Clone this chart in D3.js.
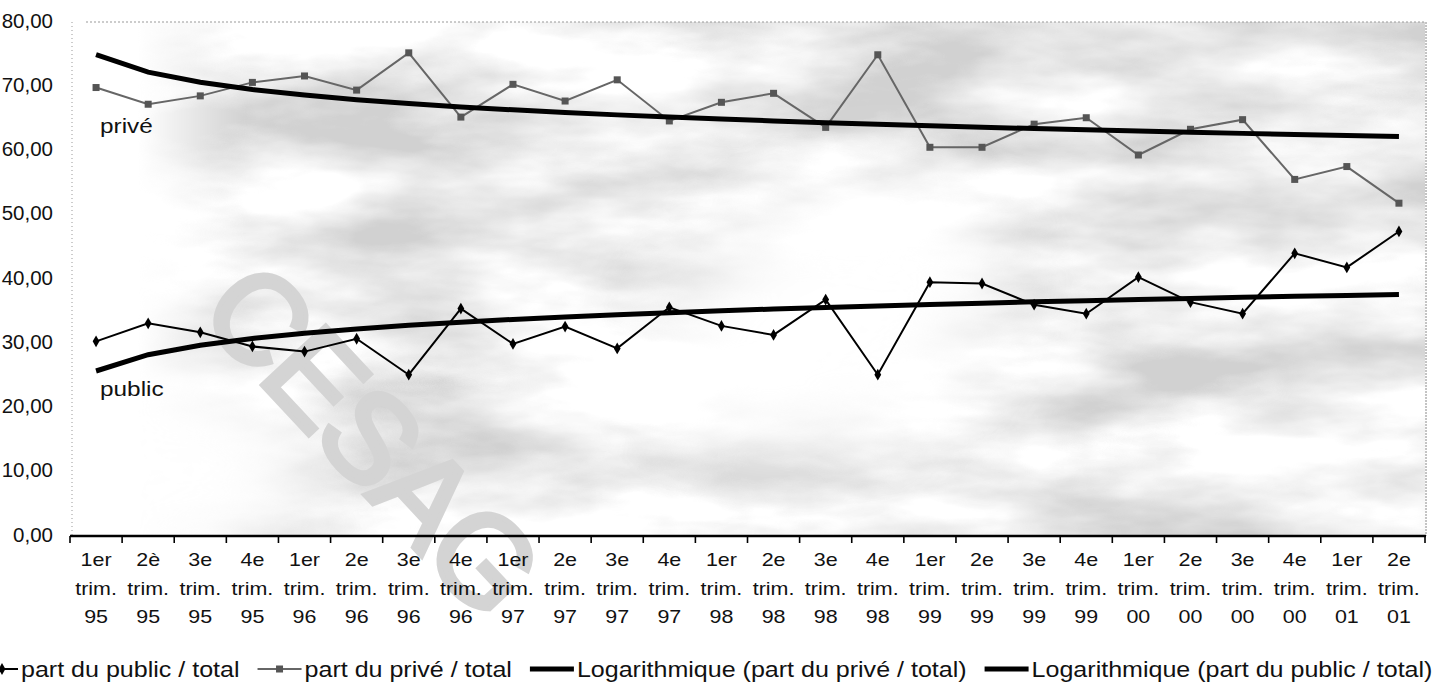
<!DOCTYPE html>
<html>
<head>
<meta charset="utf-8">
<script src="https://cdn.jsdelivr.net/npm/d3@7"></script>
<style>
  html, body { margin: 0; padding: 0; background: #fff; }
  svg { display: block; }
  text { font-family: "Liberation Sans", Arial, Helvetica, sans-serif; fill: #111; }
</style>
</head>
<body>
<svg id="chart" width="1437" height="694"></svg>
<script>
// Quarter labels (three lines per tick)
const quarters = ["1er","2è","3e","4e","1er","2e","3e","4e","1er","2e","3e","4e","1er","2e","3e","4e",
                  "1er","2e","3e","4e","1er","2e","3e","4e","1er","2e"];
const years = ["95","95","95","95","96","96","96","96","97","97","97","97","98","98","98","98",
               "99","99","99","99","00","00","00","00","01","01"];

// Share of the public sector in the total (%)
const publicShare = [30.3, 33.1, 31.7, 29.5, 28.7, 30.7, 25.1, 35.4, 29.9, 32.6, 29.2, 35.6, 32.7,
                     31.3, 36.8, 25.1, 39.5, 39.3, 36.0, 34.6, 40.3, 36.4, 34.6, 44.0, 41.8, 47.4];
// Share of the private sector in the total (%)
const privateShare = [69.8, 67.2, 68.5, 70.6, 71.6, 69.4, 75.2, 65.2, 70.3, 67.7, 71.0, 64.6, 67.5,
                      68.9, 63.6, 74.9, 60.5, 60.5, 64.1, 65.1, 59.3, 63.3, 64.8, 55.5, 57.5, 51.8];

const yTicks = [0, 10, 20, 30, 40, 50, 60, 70, 80];
const legendLabels = ["part du public / total", "part du privé / total",
                      "Logarithmique (part du privé / total)", "Logarithmique (part du public / total)"];

const svg = d3.select("#chart");
const W = 1437, H = 694;
const pLeft = 70, pRight = 1425, pTop = 22, pBottom = 536;
const SX = 1.16; // horizontal stretch of the lettering

const x = d3.scaleBand().domain(d3.range(quarters.length)).range([pLeft, pRight]);
const y = d3.scaleLinear().domain([0, 80]).range([pBottom, pTop]);
const cx = i => x(i) + x.bandwidth() / 2;

// Least-squares logarithmic trend  v = a·ln(t) + b,  t = 1..n
function logTrend(values) {
  const L = values.map((_, i) => Math.log(i + 1));
  const mL = d3.mean(L), mV = d3.mean(values);
  let sxy = 0, sxx = 0;
  L.forEach((l, i) => { sxy += (l - mL) * (values[i] - mV); sxx += (l - mL) * (l - mL); });
  const a = sxy / sxx, b = mV - a * mL;
  return values.map((_, i) => a * Math.log(i + 1) + b);
}
const privTrend = logTrend(privateShare);
const pubTrend = logTrend(publicShare);

// ---------- background: marbled grey fill ----------
const defs = svg.append("defs");
const f = defs.append("filter").attr("id", "marble").attr("filterUnits", "userSpaceOnUse")
  .attr("x", pLeft).attr("y", pTop).attr("width", pRight - pLeft).attr("height", pBottom - pTop);
f.append("feTurbulence").attr("type", "fractalNoise")
  .attr("baseFrequency", "0.004 0.012").attr("numOctaves", 5).attr("seed", 11).attr("result", "n");
f.append("feColorMatrix").attr("type", "matrix")
  .attr("values", "0 0 0 0 0.64  0 0 0 0 0.64  0 0 0 0 0.64  2.6 0 0 0 -0.92");

const grad = defs.append("linearGradient").attr("id", "fadeLeft")
  .attr("gradientUnits", "userSpaceOnUse").attr("x1", pLeft).attr("x2", pRight).attr("y1", 0).attr("y2", 0);
grad.append("stop").attr("offset", 0.05).attr("stop-color", "#000");
grad.append("stop").attr("offset", 0.13).attr("stop-color", "#fff");
grad.append("stop").attr("offset", 1).attr("stop-color", "#fff");

const blur = defs.append("filter").attr("id", "soft").attr("x", "-50%").attr("y", "-50%")
  .attr("width", "200%").attr("height", "200%");
blur.append("feGaussianBlur").attr("stdDeviation", 40);

const mask = defs.append("mask").attr("id", "marbleMask").attr("maskUnits", "userSpaceOnUse")
  .attr("x", 0).attr("y", 0).attr("width", W).attr("height", H);
mask.append("rect").attr("x", pLeft).attr("y", pTop).attr("width", pRight - pLeft).attr("height", pBottom - pTop)
  .attr("fill", "url(#fadeLeft)");
mask.append("ellipse").attr("cx", 830).attr("cy", 320).attr("rx", 180).attr("ry", 120)
  .attr("transform", "rotate(-25 830 320)").attr("fill", "#000").attr("filter", "url(#soft)");
mask.append("ellipse").attr("cx", 170).attr("cy", 470).attr("rx", 150).attr("ry", 90)
  .attr("fill", "#000").attr("filter", "url(#soft)");

svg.append("rect").attr("x", pLeft).attr("y", pTop).attr("width", pRight - pLeft).attr("height", pBottom - pTop)
  .attr("fill", "#fff").attr("filter", "url(#marble)").attr("mask", "url(#marbleMask)");

// faint watermark lettering
svg.append("text")
  .attr("transform", "translate(196,314) rotate(47)")
  .style("font-size", "126px").style("fill", "#d4d4d4")
  .style("stroke", "#d4d4d4").style("stroke-width", 5).style("letter-spacing", "-4px")
  .text("CESAG");

// ---------- frame ----------
svg.append("line").attr("x1", pLeft + 2).attr("x2", pLeft + 2).attr("y1", pTop).attr("y2", pBottom)
  .attr("stroke", "#999").attr("stroke-width", 1).attr("stroke-dasharray", "1 3");
svg.append("line").attr("x1", pLeft + 16).attr("x2", pRight).attr("y1", pTop).attr("y2", pTop)
  .attr("stroke", "#999").attr("stroke-width", 1).attr("stroke-dasharray", "2 2");
svg.append("line").attr("x1", pRight + 1).attr("x2", pRight + 1).attr("y1", pTop).attr("y2", pBottom)
  .attr("stroke", "#888").attr("stroke-width", 1).attr("stroke-dasharray", "2 1");

// ---------- helpers ----------
function label(g, px, py, str, size, anchor, sx) {
  return g.append("text")
    .attr("transform", `translate(${px},${py}) scale(${sx || SX},1)`)
    .attr("text-anchor", anchor || "start")
    .style("font-size", size + "px")
    .text(str);
}

// ---------- y axis labels ----------
const fmt = v => d3.format(".2f")(v).replace(".", ",");
const gy = svg.append("g");
yTicks.forEach(v => label(gy, 53, y(v) + 5.5, fmt(v), 20.5, "end", 1));

// ---------- x axis ----------
const gx = svg.append("g").attr("transform", `translate(0,${pBottom})`);
gx.append("line").attr("x1", pLeft).attr("x2", pRight + 1).attr("stroke", "#000").attr("stroke-width", 2.4);
const edges = d3.range(quarters.length + 1).map(i => i < quarters.length ? x(i) : pRight);
gx.selectAll("line.tick").data(edges).join("line").attr("class", "tick")
  .attr("x1", d => d).attr("x2", d => d).attr("y1", 0).attr("y2", 7)
  .attr("stroke", "#000").attr("stroke-width", 1.6);
quarters.forEach((q, i) => {
  label(gx, cx(i), 30, q, 18.5, "middle");
  label(gx, cx(i), 59, "trim.", 18.5, "middle");
  label(gx, cx(i), 87, years[i], 18.5, "middle");
});

// ---------- series ----------
const line = d3.line().x((d, i) => cx(i)).y(d => y(d));

svg.append("path").datum(privateShare).attr("d", line)
  .attr("fill", "none").attr("stroke", "#666").attr("stroke-width", 2);
svg.append("g").selectAll("rect").data(privateShare).join("rect")
  .attr("x", (d, i) => cx(i) - 3.5).attr("y", d => y(d) - 3.5)
  .attr("width", 7).attr("height", 7).attr("fill", "#555");

svg.append("path").datum(publicShare).attr("d", line)
  .attr("fill", "none").attr("stroke", "#000").attr("stroke-width", 2);
const diamond = d3.symbol().type(d3.symbolDiamond).size(40);
svg.append("g").selectAll("path").data(publicShare).join("path")
  .attr("d", diamond).attr("transform", (d, i) => `translate(${cx(i)},${y(d)})`).attr("fill", "#000");

svg.append("path").datum(privTrend).attr("d", line)
  .attr("fill", "none").attr("stroke", "#000").attr("stroke-width", 5);
svg.append("path").datum(pubTrend).attr("d", line)
  .attr("fill", "none").attr("stroke", "#000").attr("stroke-width", 5);

// series names inside the plot
label(svg, pLeft + 30, y(privTrend[0]) + 78, "privé", 21);
label(svg, pLeft + 30, y(pubTrend[0]) + 25, "public", 21);

// ---------- legend ----------
const legY = 669;
const lg = svg.append("g");
let cursor = -18;
legendLabels.forEach((txt, k) => {
  const len = k === 0 ? 36 : 44;
  const x0 = cursor, x1 = cursor + len;
  const trend = k >= 2;
  lg.append("line").attr("x1", x0).attr("x2", x1).attr("y1", legY).attr("y2", legY)
    .attr("stroke", k === 1 ? "#666" : "#000").attr("stroke-width", trend ? 5 : 2);
  const mx = (x0 + x1) / 2;
  if (k === 0) lg.append("path").attr("d", diamond).attr("transform", `translate(${mx + 2},${legY})`);
  if (k === 1) lg.append("rect").attr("x", mx - 3.5).attr("y", legY - 3.5).attr("width", 7).attr("height", 7).attr("fill", "#555");
  const t = label(lg, x1 + 3, legY + 8, txt, 21.6);
  cursor = x1 + 3 + t.node().getComputedTextLength() * SX + 18;
});
</script>
</body>
</html>
